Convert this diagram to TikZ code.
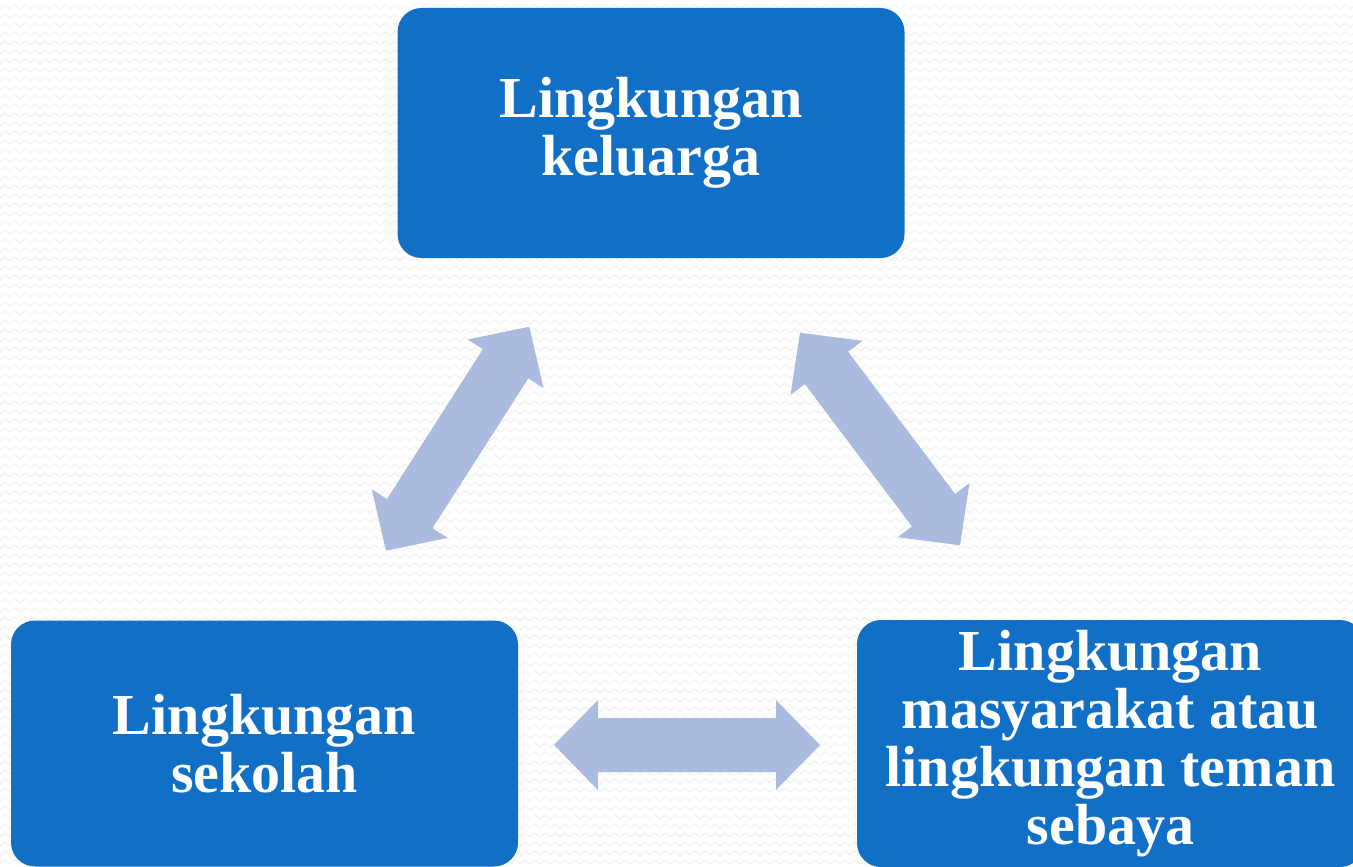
\documentclass[tikz,border=0pt]{standalone}
\usepackage{fontspec}
\setmainfont{Liberation Serif}
\usetikzlibrary{calc,patterns}
\definecolor{boxblue}{HTML}{1170C6}
\definecolor{arrowblue}{HTML}{ABBBE0}
\definecolor{zigzaggray}{HTML}{F2F2F2}
\pgfdeclarepatternformonly{bgzigzag}{\pgfqpoint{-1pt}{-1pt}}{\pgfqpoint{11pt}{10pt}}{\pgfqpoint{10pt}{9pt}}{%
  \pgfsetlinewidth{1.1pt}%
  \pgfpathmoveto{\pgfqpoint{0pt}{3pt}}%
  \pgfpathlineto{\pgfqpoint{5pt}{7pt}}%
  \pgfpathlineto{\pgfqpoint{10pt}{3pt}}%
  \pgfusepath{stroke}}
\newcommand{\blockarrow}[2]{%
  \fill[arrowfill] (#1)
    -- ($(#1)!44pt!(#2)!45pt!90:(#2)$)
    -- ($(#1)!44pt!(#2)!27pt!90:(#2)$)
    -- ($(#2)!44pt!(#1)!27pt!-90:(#1)$)
    -- ($(#2)!44pt!(#1)!45pt!-90:(#1)$)
    -- (#2)
    -- ($(#2)!44pt!(#1)!45pt!90:(#1)$)
    -- ($(#2)!44pt!(#1)!27pt!90:(#1)$)
    -- ($(#1)!44pt!(#2)!27pt!-90:(#2)$)
    -- ($(#1)!44pt!(#2)!45pt!-90:(#2)$)
    -- cycle;}
\begin{document}
\begin{tikzpicture}[x=1pt,y=-1pt,
  envbox/.style={fill=boxblue, rounded corners=24pt, inner sep=0pt,
    minimum width=507pt, text=white, align=center,
    font=\fontsize{58}{58}\selectfont\bfseries},
  arrowfill/.style={fill=arrowblue}]
\useasboundingbox (0,0) rectangle (1353,867);
\clip (0,0) rectangle (1353,867);
\fill[white] (0,0) rectangle (1353,867);
\fill[pattern=bgzigzag, pattern color=zigzaggray] (0,0) rectangle (1353,867);

\node[envbox, minimum height=250pt] (keluarga) at (651,133) {Lingkungan\\keluarga};
\node[envbox, minimum height=246pt] (sekolah) at (264.5,743.5) {Lingkungan\\sekolah};
\node[envbox, minimum height=247pt] (masyarakat) at (1110.5,743.5)
  {Lingkungan\\masyarakat atau\\lingkungan teman\\sebaya};

\coordinate (a1s) at (386,550.7);
\coordinate (a1e) at (529.3,326.7);
\coordinate (a2s) at (800,332.7);
\coordinate (a2e) at (960,545.3);
\coordinate (a3s) at (554,745);
\coordinate (a3e) at (820,745);

\blockarrow{a1s}{a1e}
\blockarrow{a2s}{a2e}
\blockarrow{a3s}{a3e}
\end{tikzpicture}
\end{document}
